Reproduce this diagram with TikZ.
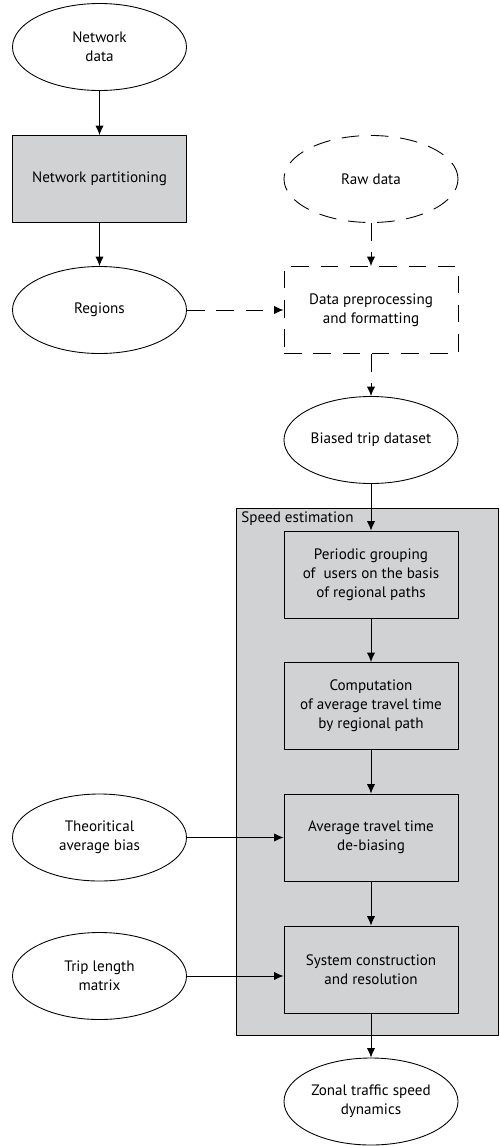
\documentclass[tikz,border=0pt]{standalone}
\usepackage{fontspec}
\setmainfont{PT Sans}
\usetikzlibrary{shapes.geometric, arrows.meta}
\tikzset{>={Latex[length=8pt, width=7pt]}}
\definecolor{boxgray}{HTML}{D1D2D4}
\tikzset{
  oval/.style={draw, ellipse, minimum width=5.22cm, minimum height=2.61cm, inner sep=0pt, align=center, fill=white},
  block/.style={draw, rectangle, minimum width=5.22cm, minimum height=2.61cm, inner sep=0pt, align=center, fill=boxgray},
  dashline/.style={dash pattern=on 15pt off 10pt}
}

\begin{document}
\begin{tikzpicture}[x=0.03cm, y=-0.03cm, line join = round, line width=0.75pt, font=\fontsize{12.9}{16.3}\selectfont]
    \useasboundingbox (0,0) rectangle (499,1146);

    % speed estimation frame
    \draw[fill=boxgray] (236,508) rectangle (498.5,1035);
    \node[anchor=north west, inner sep=0pt] (speedlbl) at (241,511) {Speed estimation};

    \node[oval] (netdata) at (99.5,47) {Network\\data};
    \node[block] (netpart) at (99.5,179) {Network partitioning};
    \node[oval] (regions) at (99.5,310) {Regions};

    \node[oval, dashline] (rawdata) at (371,179) {Raw data};
    \node[block, dashline, fill=white] (preproc) at (371,310) {Data preprocessing\\and formatting};
    \node[oval] (biased) at (371,440) {Biased trip dataset};

    \node[block] (grouping) at (371,574.5) {Periodic grouping\\of\ \ users on the basis\\of regional paths};
    \node[block] (avgtime) at (371,706) {Computation\\of average travel time\\by regional path};
    \node[block] (debias) at (371,837.5) {Average travel time\\de-biasing};
    \node[block] (system) at (371,969.5) {System construction\\and resolution};
    \node[oval] (zonal) at (371,1101.5) {Zonal traffic speed\\dynamics};

    \node[oval] (theobias) at (99.5,837.5) {Theoritical\\average bias};
    \node[oval] (triplen) at (99.5,976) {Trip length\\matrix};

    \draw[->] (netdata) -- (netpart);
    \draw[->] (netpart) -- (regions);
    \draw[->, dashline] (regions) -- (preproc);
    \draw[->, dashline] (rawdata) -- (preproc);
    \draw[->, dashline] (preproc) -- (biased);
    \draw[->] (biased) -- (grouping);
    \draw[->] (grouping) -- (avgtime);
    \draw[->] (avgtime) -- (debias);
    \draw[->] (debias) -- (system);
    \draw[->] (system) -- (zonal);
    \draw[->] (theobias) -- (debias);
    \draw[->] (triplen.east) -- (triplen.east -| system.west);
\end{tikzpicture}
\end{document}
